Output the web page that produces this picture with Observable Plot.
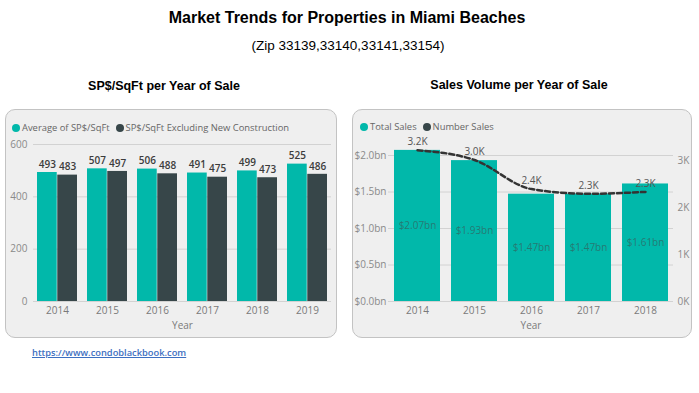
<!DOCTYPE html>
<html><head><meta charset="utf-8">
<script src="https://cdn.jsdelivr.net/npm/d3@7"></script>
<script src="https://cdn.jsdelivr.net/npm/@observablehq/plot@0.6"></script>
<style>
body{margin:0;background:#fff;}
#root{position:relative;width:699px;height:393px;overflow:hidden;font-family:"Open Sans",sans-serif;}
.t{position:absolute;white-space:nowrap;font-family:"Liberation Sans",Arial,sans-serif;color:#000;transform:translate(-50%,-50%);line-height:1;}
.panel{position:absolute;background:#efefef;border:1px solid #c3c3c3;border-radius:10px;box-sizing:border-box;}
.chart{position:absolute;}
.legend{position:absolute;font-size:9.4px;color:#666;white-space:nowrap;display:flex;align-items:center;line-height:12px;}
.sw{display:inline-block;width:8px;height:8px;border-radius:50%;margin-right:2px;}
.link{position:absolute;left:32px;top:346px;font-size:9.3px;font-weight:600;color:#3d6fc1;text-decoration:underline;white-space:nowrap;}
</style></head><body><div id="root">
<div class="t" style="left:347px;top:18px;font-size:16px;font-weight:bold;">Market Trends for Properties in Miami Beaches</div>
<div class="t" style="left:348px;top:46px;font-size:13.5px;">(Zip 33139,33140,33141,33154)</div>
<div class="t" style="left:164px;top:86px;font-size:12.5px;font-weight:bold;">SP$/SqFt per Year of Sale</div>
<div class="t" style="left:519px;top:85px;font-size:12.5px;font-weight:bold;">Sales Volume per Year of Sale</div>
<div class="panel" style="left:5px;top:109px;width:332px;height:229px;"></div>
<div class="panel" style="left:352px;top:109px;width:340px;height:229px;"></div>
<div id="c1" class="chart" style="left:5px;top:109px;"></div>
<div id="c2" class="chart" style="left:352px;top:109px;"></div>
<div class="legend" style="left:12px;top:122px;"><span class="sw" style="background:#01B8AA"></span>Average of SP$/SqFt<span class="sw" style="background:#374649;margin-left:6px"></span>SP$/SqFt Excluding New Construction</div>
<div class="legend" style="left:360px;top:121px;"><span class="sw" style="background:#01B8AA"></span>Total Sales<span class="sw" style="background:#374649;margin-left:6px"></span>Number Sales</div>
<div class="link">https://www.condoblackbook.com</div>
</div>
<script>
// ---- data ----
const years1 = ["2014","2015","2016","2017","2018","2019"];
const avgPrice = [493,507,506,491,499,525];
const avgPriceExNew = [483,497,488,475,473,486];
const yTicks1 = [0,200,400,600];

const years2 = ["2014","2015","2016","2017","2018"];
const totalSales = [2.07,1.93,1.47,1.47,1.61];      // $ billions
const numberSales = [3.23,3.02,2.40,2.30,2.34];     // thousands
const yTicks2 = [0,0.5,1,1.5,2];
const yTicksRight = [0,1,2,3];

const teal = "#01B8AA", dark = "#374649";
const baseStyle = {background:"transparent", fontFamily:"Open Sans", fontSize:"10px", color:"#7a7a7a", overflow:"visible"};

// ---- chart 1 ----
{
  const W=332,H=229,mL=28,mR=6,mT=35,mB=37, pI=0.2, pO=0.04;
  const xs = Plot.scale({x:{type:"band", domain:years1, range:[mL,W-mR], paddingInner:pI, paddingOuter:pO}});
  const bw = xs.bandwidth;
  const rows = years1.map((y,i)=>({year:y, a:avgPrice[i], b:avgPriceExNew[i]}));
  const p = Plot.plot({
    width:W, height:H, marginLeft:mL, marginRight:mR, marginTop:mT, marginBottom:mB,
    style:baseStyle,
    x:{domain:years1, paddingInner:pI, paddingOuter:pO},
    y:{domain:[0,600]},
    marks:[
      Plot.gridY(yTicks1,{stroke:"#d2d2d2", strokeOpacity:1}),
      Plot.barY(rows,{x:"year", y:"a", fill:teal, insetRight:bw/2}),
      Plot.barY(rows,{x:"year", y:"b", fill:dark, insetLeft:bw/2}),
      Plot.text(rows,{x:"year", y:"a", text:d=>String(d.a), dx:-bw/4, dy:-8, fill:"#3c3c3c", fontWeight:600}),
      Plot.text(rows,{x:"year", y:"b", text:d=>String(d.b), dx:bw/4, dy:-8, fill:"#3c3c3c", fontWeight:600}),
      Plot.axisY(yTicks1,{tickSize:0, tickPadding:6, label:null, fill:"#8a8a8a"}),
      Plot.axisX({tickSize:0, tickPadding:5, label:"Year", labelAnchor:"center", labelOffset:27, fill:"#7a7a7a"})
    ]
  });
  document.getElementById("c1").append(p);
}

// ---- chart 2 ----
{
  const W=340,H=229,mL=36,mR=19,mT=46,mB=37, pI=0.2, pO=0.07;
  const rows = years2.map((y,i)=>({year:y, total:totalSales[i], num:numberSales[i]}));
  const y2 = d3.scaleLinear([0,3],[0,1.925]);
  const p = Plot.plot({
    width:W, height:H, marginLeft:mL, marginRight:mR, marginTop:mT, marginBottom:mB,
    style:baseStyle,
    x:{domain:years2, paddingInner:pI, paddingOuter:pO},
    y:{domain:[0,2]},
    marks:[
      Plot.gridY(yTicks2,{stroke:"#d2d2d2", strokeOpacity:1}),
      Plot.barY(rows,{x:"year", y:"total", fill:teal}),
      Plot.text(rows,{x:"year", y:d=>d.total/2, text:d=>"$"+d.total.toFixed(2)+"bn", fill:"#444", fillOpacity:0.55}),
      Plot.line(rows,{x:"year", y:d=>y2(d.num), stroke:"#333", strokeWidth:2.5, strokeDasharray:"5,3", curve:"monotone-x"}),
      Plot.text(rows,{x:"year", y:d=>y2(d.num), text:d=>d.num.toFixed(1)+"K", dy:-8, fill:"#555"}),
      Plot.axisY(yTicks2,{tickSize:0, tickPadding:2, label:null, tickFormat:d=>"$"+d.toFixed(1)+"bn", fill:"#8a8a8a"}),
      Plot.axisY(yTicksRight,{anchor:"right", y:d=>y2(d), tickFormat:d=>d+"K", tickSize:0, tickPadding:4, label:null, fill:"#8a8a8a"}),
      Plot.axisX({tickSize:0, tickPadding:5, label:"Year", labelAnchor:"center", labelOffset:27, fill:"#7a7a7a"})
    ]
  });
  document.getElementById("c2").append(p);
}
</script>
</body></html>
